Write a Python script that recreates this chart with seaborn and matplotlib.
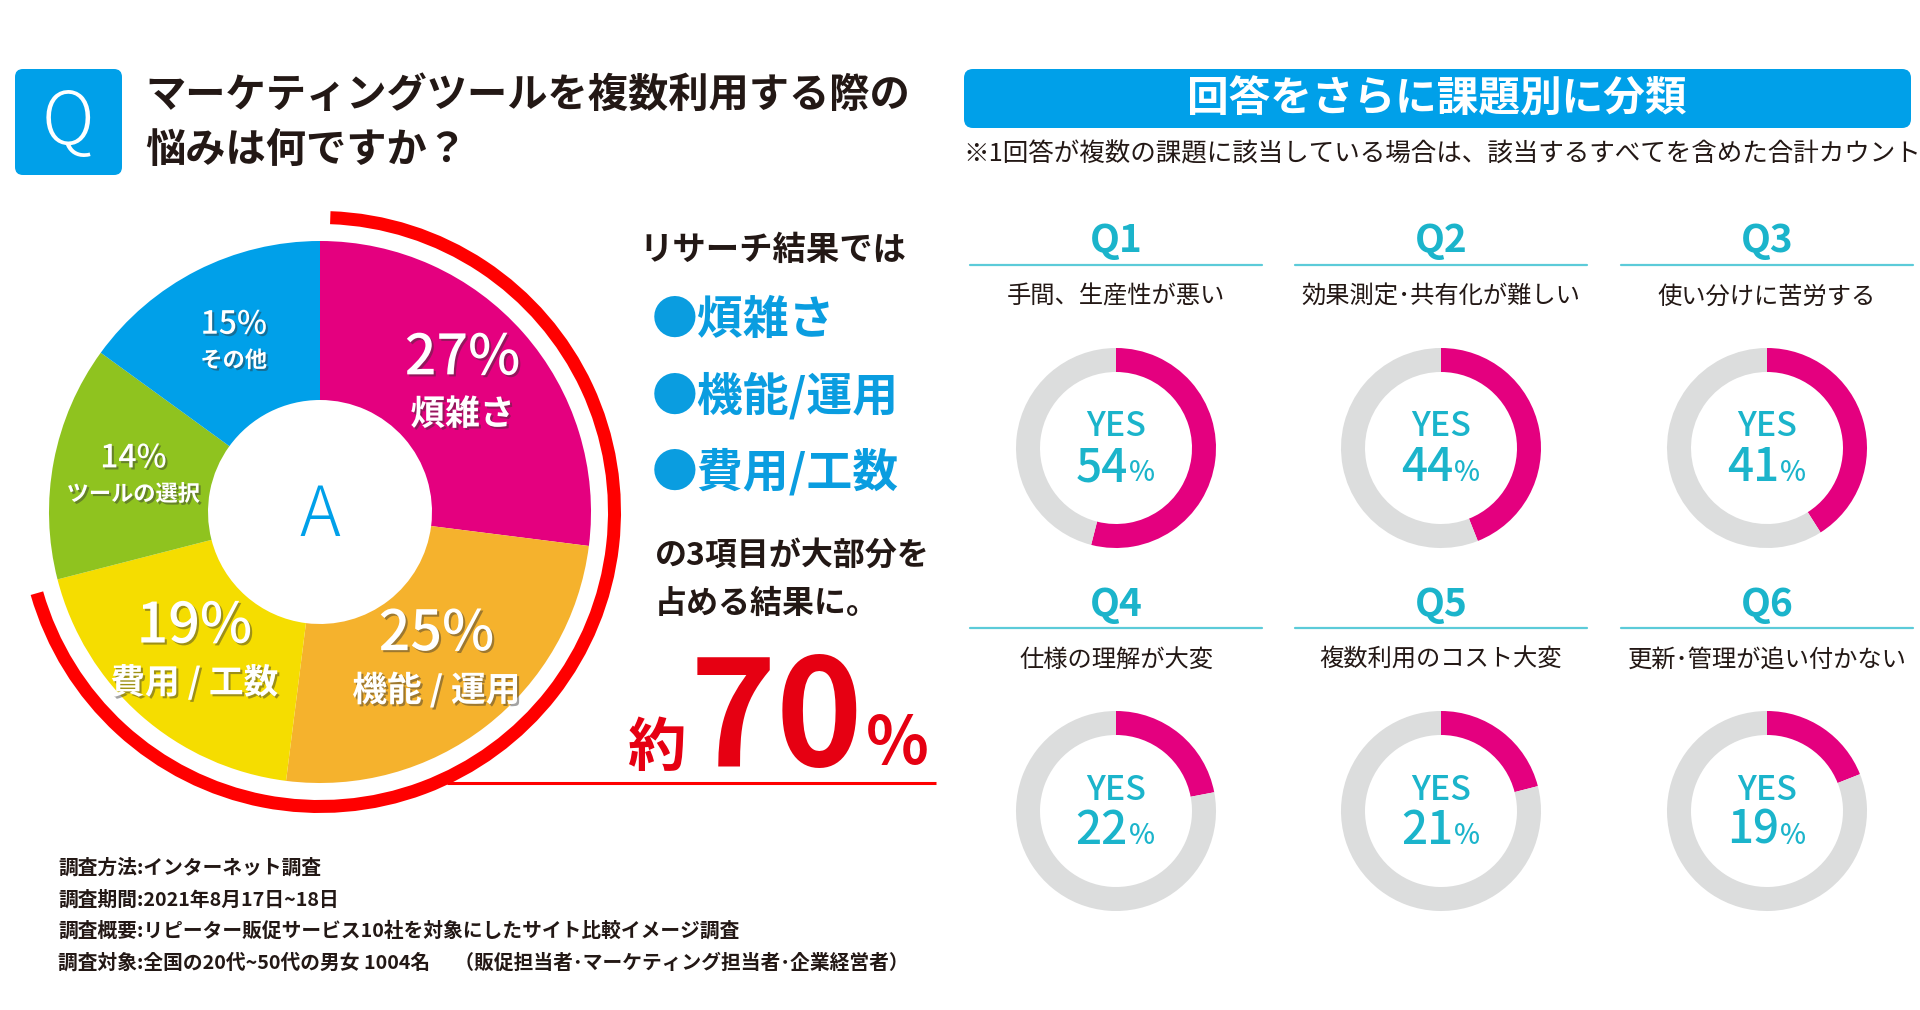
import matplotlib
matplotlib.use('Agg')
import numpy as np
import matplotlib.pyplot as plt
import matplotlib.patheffects as pe
from matplotlib.patches import FancyBboxPatch, Wedge
import seaborn as sns

# --- data ---
question_lines = ['マーケティングツールを複数利用する際の', '悩みは何ですか？']
pie_labels = ['煩雑さ', '機能 / 運用', '費用 / 工数', 'ツールの選択', 'その他']
pie_values = [27, 25, 19, 14, 15]
pie_colors = ['#e4007f', '#f5b22d', '#f5dd00', '#8fc31f', '#00a0e9']
top3_share = 70
lead_text = 'リサーチ結果では'
highlight_items = ['●煩雑さ', '●機能/運用', '●費用/工数']
result_lines = ['の3項目が大部分を', '占める結果に。']
survey_notes = [
    '調査方法:インターネット調査',
    '調査期間:2021年8月17日~18日',
    '調査概要:リピーター販促サービス10社を対象にしたサイト比較イメージ調査',
    '調査対象:全国の20代~50代の男女 1004名　 （販促担当者･マーケティング担当者･企業経営者）',
]

banner_title = '回答をさらに課題別に分類'
banner_note = '※1回答が複数の課題に該当している場合は、該当するすべてを含めた合計カウント'
q_ids = ['Q1', 'Q2', 'Q3', 'Q4', 'Q5', 'Q6']
q_titles = ['手間、生産性が悪い', '効果測定･共有化が難しい', '使い分けに苦労する',
            '仕様の理解が大変', '複数利用のコスト大変', '更新･管理が追い付かない']
q_yes = [54, 44, 41, 22, 21, 19]

DARK = '#231815'
BLUE = '#00a0e9'
RED = '#e60012'
TEAL = '#1bb4cb'
MAGENTA = '#e4007f'
GRAY = '#dcdddd'

sns.set_theme(style='white')
plt.rcParams['font.family'] = ['Noto Sans CJK JP', 'DejaVu Sans']

fig = plt.figure(figsize=(19.2, 10.1), dpi=100)
ax = fig.add_axes([0, 0, 1, 1])


def txt(x, y, s, size, color=DARK, weight='normal', ha='left', va='center', **kw):
    return ax.text(x, y, s, fontsize=size, color=color, fontweight=weight,
                   ha=ha, va=va, **kw)


# --- left: question header ---
ax.add_patch(FancyBboxPatch((15, 69), 107, 106, boxstyle='round,pad=0,rounding_size=8',
                            fc=BLUE, ec='none'))
txt(68, 124, 'Q', 52, color='white', weight='light', ha='center')
for i, line in enumerate(question_lines):
    txt(145, 95 + 55 * i, line, 29, weight='bold')

# --- main pie ---
cx, cy, r_out, r_in = 320, 512, 271, 112
ax.pie(pie_values, colors=pie_colors, startangle=-90, counterclock=True,
       center=(cx, cy), radius=r_out, frame=True,
       wedgeprops=dict(width=r_out - r_in, linewidth=0))

shadow = [pe.withSimplePatchShadow(offset=(1.5, -1.5), shadow_rgbFace='#333333', alpha=0.45)]
cum = np.cumsum([0] + pie_values[:-1])
for lab, v, c0 in zip(pie_labels, pie_values, cum):
    ang = np.deg2rad(90 - 360 * (c0 + v / 2) / 100)
    lx = cx + 190 * np.cos(ang)
    ly = cy - 190 * np.sin(ang)
    if v >= 19:
        txt(lx, ly - 28, f'{v}%', 40, color='white', weight='medium', ha='center',
            path_effects=shadow)
        txt(lx, ly + 28, lab, 25, color='white', weight='bold', ha='center', path_effects=shadow)
    else:
        txt(lx, ly - 18, f'{v}%', 23, color='white', weight='medium', ha='center',
            path_effects=shadow)
        txt(lx, ly + 18, lab, 16, color='white', weight='bold', ha='center', path_effects=shadow)
txt(cx, 517, 'A', 50, color=BLUE, weight='light', ha='center')

# red arc covering the top three answers
sweep = 360 * top3_share / 100
ax.add_patch(Wedge((cx, cy), 301, -88, -88 + sweep, width=13, fc='#ff0000', ec='none'))
ax.plot([447, 936], [783, 783], color='#ff0000', lw=2.2, solid_capstyle='butt')

# --- middle text ---
txt(640, 250, lead_text, 24, weight='bold')
for i, item in enumerate(highlight_items):
    txt(652, 321 + 76 * i, item, 33, color='#0a9de0', weight='bold')
for i, line in enumerate(result_lines):
    txt(655, 556 + 48 * i, line, 23, weight='bold')
txt(627, 766, '約', 42, color=RED, weight='bold', va='baseline')
txt(690, 766, str(top3_share), 106, color=RED, weight='bold', va='baseline')
txt(866, 764, '%', 47, color=RED, weight='bold', va='baseline')

for i, note in enumerate(survey_notes):
    txt(58, 868 + 31.5 * i, note, 14.2, weight='bold')

# --- right: banner ---
ax.add_patch(FancyBboxPatch((964, 69), 947, 59, boxstyle='round,pad=0,rounding_size=9',
                            fc=BLUE, ec='none'))
txt(1437, 99, banner_title, 30, color='white', weight='bold', ha='center')
txt(963, 154, banner_note, 18.4)

col_x = [1116, 1441, 1767]
row_y = [0, 363]
for k, (qid, title, yes) in enumerate(zip(q_ids, q_titles, q_yes)):
    x0 = col_x[k % 3]
    dy = row_y[k // 3]
    txt(x0, 241 + dy, qid, 28, color=TEAL, weight='bold', ha='center')
    ax.plot([x0 - 146, x0 + 146], [265 + dy, 265 + dy], color='#5ccbd9', lw=1.6)
    txt(x0, 297 + dy, title, 17.5, ha='center')
    dcy = 448 + dy
    ax.pie([yes, 100 - yes], colors=[MAGENTA, GRAY], startangle=-90, counterclock=True,
           center=(x0, dcy), radius=100, frame=True,
           wedgeprops=dict(width=24, linewidth=0))
    txt(x0, dcy - 21, 'YES', 24.5, color=TEAL, weight='medium', ha='center')
    txt(x0 + 12, dcy + 33, str(yes), 33, color=TEAL, weight='medium', ha='right', va='baseline')
    txt(x0 + 13, dcy + 33, '%', 20, color=TEAL, weight='medium', ha='left', va='baseline')

ax.set_xlim(0, 1920)
ax.set_ylim(1010, 0)
ax.axis('off')
fig.savefig('out.png', dpi=100, facecolor='white')
